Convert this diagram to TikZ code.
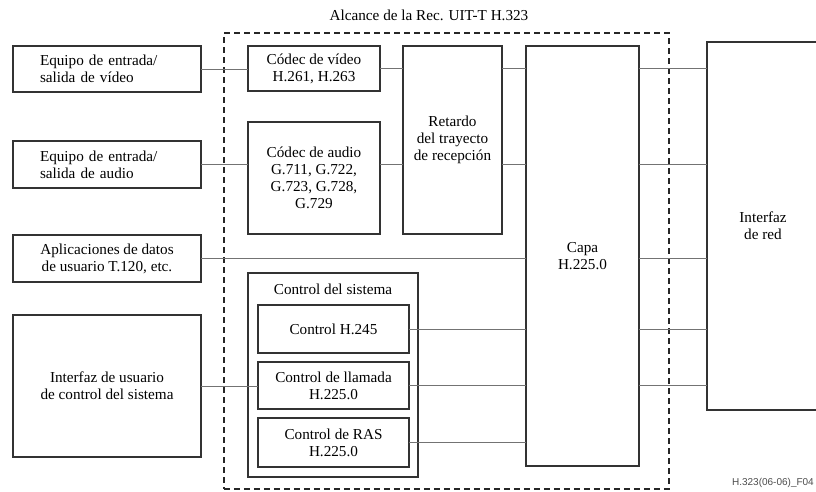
\documentclass[tikz,border=0pt]{standalone}
\usepackage{fontspec}
\setmainfont{Liberation Serif}
\newfontfamily\footfont{Liberation Sans}
\begin{document}
\begin{tikzpicture}[x=1pt,y=-1pt,
  box/.style={draw=black!80, line width=1.3pt, rectangle, inner sep=0pt, outer sep=0pt,
    align=center, anchor=north west, font=\fontsize{15.2}{17}\selectfont},
  leftbox/.style={box, text width=134pt, align=left},
  conn/.style={draw=black!55, line width=0.8pt},
  scopebox/.style={draw=black!85, line width=1.6pt, dash pattern=on 6pt off 4pt, rectangle,
    inner sep=0pt, anchor=north west},
  lbl/.style={inner sep=0pt, font=\fontsize{15.2}{17}\selectfont},
  footlbl/.style={inner sep=0pt, anchor=east, text=black!70, font=\footfont\fontsize{10}{12}\selectfont}
]
\useasboundingbox (0,0) rectangle (816,491);

% scope of H.323
\node[scopebox, minimum width=445pt, minimum height=456pt] (h323) at (223,32) {};
\node[lbl] (title) at (429,15) {Alcance de la Rec. UIT-T H.323};

% left column
\node[leftbox, minimum width=188pt, minimum height=46pt] (vio) at (13,46) {Equipo de entrada/\\salida de vídeo};
\node[leftbox, minimum width=188pt, minimum height=47pt] (aio) at (13,141) {Equipo de entrada/\\salida de audio};
\node[box, minimum width=188pt, minimum height=47pt] (apps) at (13,235) {Aplicaciones de datos\\de usuario T.120, etc.};
\node[box, minimum width=188pt, minimum height=142pt] (iu) at (13,315) {Interfaz de usuario\\de control del sistema};

% codecs
\node[box, minimum width=132pt, minimum height=45pt] (cv) at (248,46) {Códec de vídeo\\H.261, H.263};
\node[box, minimum width=132pt, minimum height=112pt] (ca) at (248,122) {Códec de audio\\G.711, G.722,\\G.723, G.728,\\G.729};
\node[box, minimum width=99pt, minimum height=188pt] (ret) at (403,46) {Retardo\\del trayecto\\de recepción};

% system control
\node[box, minimum width=170pt, minimum height=204pt] (sys) at (248,273) {};
\node[lbl] (syslbl) at (333,289) {Control del sistema};
\node[box, minimum width=151pt, minimum height=48pt] (h245) at (258,305) {Control H.245};
\node[box, minimum width=151pt, minimum height=47pt] (call) at (258,362) {Control de llamada\\H.225.0};
\node[box, minimum width=151pt, minimum height=49pt] (ras) at (258,418) {Control de RAS\\H.225.0};

% layer and network
\node[box, minimum width=113pt, minimum height=420pt] (capa) at (526,46) {Capa\\H.225.0};
\node[box, minimum width=112pt, minimum height=368pt] (red) at (707,42) {Interfaz\\de red};

\node[footlbl] (foot) at (814,483) {H.323(06-06)\_F04};

% connectors
\draw[conn] (vio.east) -- (cv.west |- vio.east);
\draw[conn] (cv.east) -- (ret.west |- cv.east);
\draw[conn] (ret.east |- cv.east) -- (capa.west |- cv.east);
\draw[conn] (capa.east |- cv.east) -- (red.west |- cv.east);

\draw[conn] (aio.east) -- (ca.west |- aio.east);
\draw[conn] (ca.east |- aio.east) -- (ret.west |- aio.east);
\draw[conn] (ret.east |- aio.east) -- (capa.west |- aio.east);
\draw[conn] (capa.east |- aio.east) -- (red.west |- aio.east);

\draw[conn] (apps.east) -- (capa.west |- apps.east);
\draw[conn] (capa.east |- apps.east) -- (red.west |- apps.east);

\draw[conn] (h245.east) -- (capa.west |- h245.east);
\draw[conn] (capa.east |- h245.east) -- (red.west |- h245.east);

\draw[conn] (iu.east) -- (call.west |- iu.east);
\draw[conn] (call.east) -- (capa.west |- call.east);
\draw[conn] (capa.east |- call.east) -- (red.west |- call.east);

\draw[conn] (ras.east) -- (capa.west |- ras.east);
\end{tikzpicture}
\end{document}
